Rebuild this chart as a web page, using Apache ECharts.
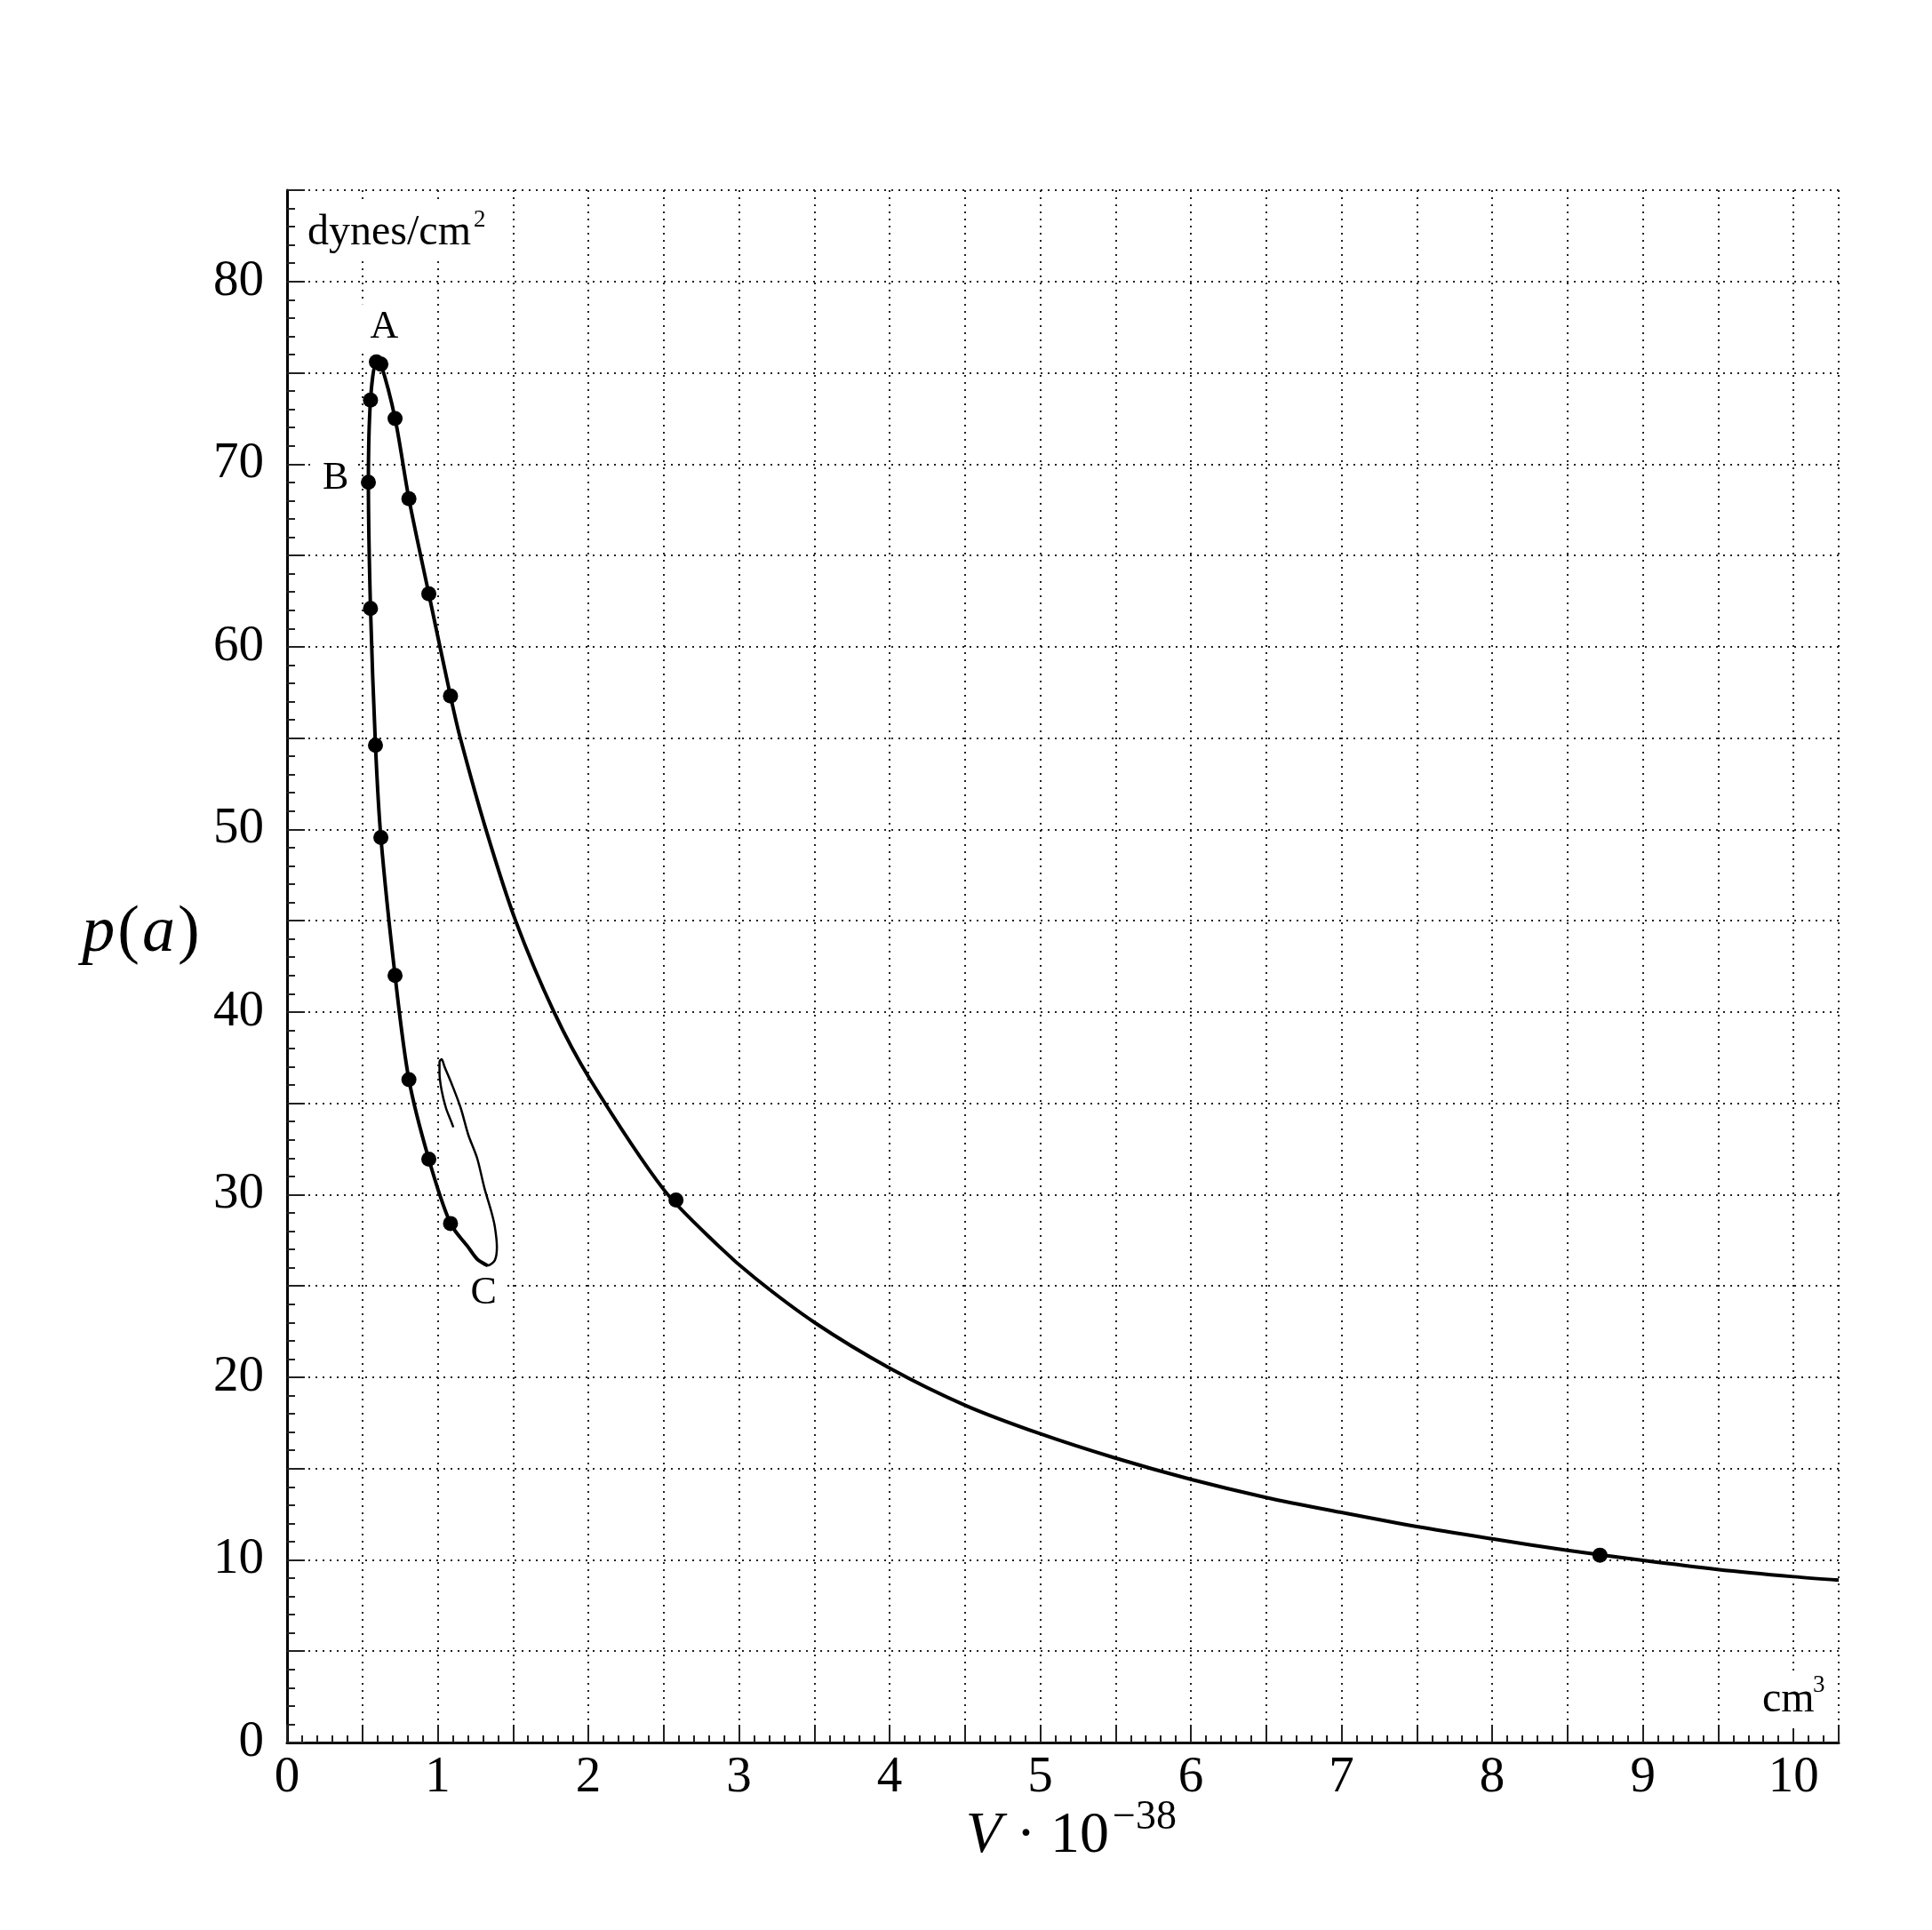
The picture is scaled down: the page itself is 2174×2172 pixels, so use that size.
<!DOCTYPE html>
<html>
<head>
<meta charset="utf-8">
<script src="https://cdn.jsdelivr.net/npm/echarts@6/dist/echarts.min.js"></script>
<style>
  html, body { margin: 0; padding: 0; background: #fff; }
  #chart { width: 2174px; height: 2172px; }
</style>
</head>
<body>
<div id="chart"></div>
<script>
// main curve: from C up the left branch to A, then down the right branch and the long tail
var curveV = [1.33, 1.262, 1.203, 1.085, 0.941, 0.809, 0.717, 0.623, 0.587, 0.554, 0.540, 0.554, 0.593, 0.623,
  0.717, 0.809, 0.941, 1.085, 1.15, 1.32, 1.517, 1.772, 2.008, 2.50, 2.853, 3.108, 3.503, 3.998,
  4.506, 4.998, 5.496, 6.003, 6.498, 6.99, 7.50, 8.0, 8.50, 9.0, 9.495, 10.0, 10.3];
var curveP = [26.12, 26.47, 27.12, 28.42, 31.94, 36.3, 42.0, 49.55, 54.6, 62.1, 69.0, 73.5, 75.6, 75.47,
  72.5, 68.1, 62.9, 57.3, 55.0, 50.0, 45.0, 40.0, 36.36, 30.28, 27.28, 25.42, 22.99, 20.51,
  18.45, 16.91, 15.58, 14.40, 13.42, 12.61, 11.82, 11.15, 10.52, 9.97, 9.48, 9.08, 8.89];

// thin inner loop after C
var loopV = [1.262, 1.33, 1.379, 1.393, 1.379, 1.356, 1.31, 1.262, 1.203, 1.153, 1.094, 1.045, 1.026, 1.012, 1.012, 1.026, 1.055, 1.085, 1.104];
var loopP = [26.47, 26.12, 26.4, 27.12, 28.26, 29.07, 30.37, 31.99, 33.28, 34.74, 36.04, 37.01, 37.42, 37.26, 36.69, 35.71, 34.74, 34.1, 33.69];

// marked points
var dotV = [0.593, 0.623, 0.554, 0.540, 0.554, 0.587, 0.623, 0.717, 0.809, 0.941, 1.085, 0.717, 0.809, 0.941, 1.085, 2.582, 8.715];
var dotP = [75.6, 75.47, 73.5, 69.0, 62.1, 54.6, 49.55, 42.0, 36.3, 31.94, 28.42, 72.5, 68.1, 62.9, 57.3, 29.7, 10.26];

// letters
var letterNames = ['A', 'B', 'C'];
var letterV = [0.645, 0.323, 1.305];
var letterP = [77.5, 69.2, 24.6];

function zip(a, b) {
  var out = [];
  for (var i = 0; i < a.length; i++) out.push([a[i], b[i]]);
  return out;
}

var serif = '"Liberation Serif", "DejaVu Serif", serif';
var black = '#000';
var gridLine = { show: true, lineStyle: { color: '#222', width: 2, type: [2, 6] } };

var chart = echarts.init(document.getElementById('chart'));

var option = {
  backgroundColor: '#fff',
  animation: false,
  grid: { left: 323, right: 105, top: 214, bottom: 211 },
  xAxis: [{
    type: 'value',
    position: 'bottom',
    min: 0,
    max: 10.3,
    interval: 0.5,
    axisLine: { show: true, onZero: false, lineStyle: { color: black, width: 3 } },
    axisTick: { show: true, inside: true, length: 20, lineStyle: { color: '#222', width: 2 } },
    axisLabel: {
      margin: 12,
      fontFamily: serif,
      fontSize: 57,
      color: black,
      formatter: function (v) {
        return Math.abs(v - Math.round(v)) < 1e-6 ? String(Math.round(v)) : '';
      }
    },
    splitLine: gridLine
  }, {
    // small ticks every 0.1
    type: 'value',
    position: 'bottom',
    min: 0,
    max: 10.3,
    interval: 0.1,
    axisLine: { show: false },
    axisTick: { show: true, inside: true, length: 8, lineStyle: { color: '#222', width: 2 } },
    axisLabel: { show: false },
    splitLine: { show: false }
  }],
  yAxis: [{
    type: 'value',
    position: 'left',
    min: 0,
    max: 85,
    interval: 5,
    axisLine: { show: true, onZero: false, lineStyle: { color: black, width: 3 } },
    axisTick: { show: true, inside: true, length: 20, lineStyle: { color: '#222', width: 2 } },
    axisLabel: {
      margin: 26,
      fontFamily: serif,
      fontSize: 57,
      color: black,
      formatter: function (v) {
        return v % 10 === 0 ? String(v) : '';
      }
    },
    splitLine: gridLine
  }, {
    // small ticks every 1
    type: 'value',
    position: 'left',
    min: 0,
    max: 85,
    interval: 1,
    axisLine: { show: false },
    axisTick: { show: true, inside: true, length: 9, lineStyle: { color: '#222', width: 2 } },
    axisLabel: { show: false },
    splitLine: { show: false }
  }],
  graphic: [
    {
      type: 'text', x: 160, y: 1051,
      style: {
        text: '{i|p}{n|(}{i|a}{n|)}',
        align: 'center', verticalAlign: 'middle',
        rich: {
          i: { fontFamily: serif, fontStyle: 'italic', fontSize: 74, fill: black },
          n: { fontFamily: serif, fontSize: 74, fill: black, padding: [0, 3] }
        }
      }
    },
    {
      type: 'text', x: 1248, y: 2067,
      style: {
        text: '{i|V}{n| · 10}',
        align: 'right', verticalAlign: 'middle',
        rich: {
          i: { fontFamily: serif, fontStyle: 'italic', fontSize: 66, fill: black },
          n: { fontFamily: serif, fontSize: 66, fill: black }
        }
      }
    },
    {
      type: 'text', x: 1252, y: 2046,
      style: { text: '\u221238', fontFamily: serif, fontSize: 46, fill: black, align: 'left', verticalAlign: 'middle' }
    },
    {
      type: 'text', x: 340, y: 262, z: 10,
      style: {
        text: 'dynes/cm', fontFamily: serif, fontSize: 48, fill: black,
        align: 'left', verticalAlign: 'middle',
        backgroundColor: '#fff', padding: [8, 4, 8, 6]
      }
    },
    {
      type: 'text', x: 532, y: 248, z: 10,
      style: {
        text: '2', fontFamily: serif, fontSize: 27, fill: black,
        align: 'left', verticalAlign: 'middle',
        backgroundColor: '#fff', padding: [2, 6, 2, 1]
      }
    },
    {
      type: 'text', x: 1977, y: 1913, z: 10,
      style: {
        text: 'cm', fontFamily: serif, fontSize: 48, fill: black,
        align: 'left', verticalAlign: 'middle',
        backgroundColor: '#fff', padding: [8, 2, 8, 6]
      }
    },
    {
      type: 'text', x: 2039, y: 1897, z: 10,
      style: {
        text: '3', fontFamily: serif, fontSize: 27, fill: black,
        align: 'left', verticalAlign: 'middle',
        backgroundColor: '#fff', padding: [2, 2, 2, 1]
      }
    }
  ],
  series: [
    {
      type: 'line',
      data: zip(curveV, curveP),
      showSymbol: false,
      smooth: 0.3,
      lineStyle: { color: black, width: 4 },
      z: 3
    },
    {
      type: 'line',
      data: zip(loopV, loopP),
      showSymbol: false,
      smooth: 0.3,
      lineStyle: { color: black, width: 2.5 },
      z: 2
    },
    {
      type: 'scatter',
      data: zip(dotV, dotP),
      symbol: 'circle',
      symbolSize: 17,
      itemStyle: { color: black, opacity: 1 },
      z: 4
    },
    {
      type: 'scatter',
      data: zip(letterV, letterP).map(function (d, i) { return { value: d, name: letterNames[i] }; }),
      symbolSize: 0,
      itemStyle: { opacity: 1 },
      z: 5,
      label: {
        show: true,
        position: 'inside',
        formatter: '{b}',
        fontFamily: serif,
        fontSize: 44,
        color: black,
        opacity: 1,
        backgroundColor: '#fff',
        padding: [4, 10]
      }
    }
  ]
};

chart.setOption(option);
</script>
</body>
</html>
